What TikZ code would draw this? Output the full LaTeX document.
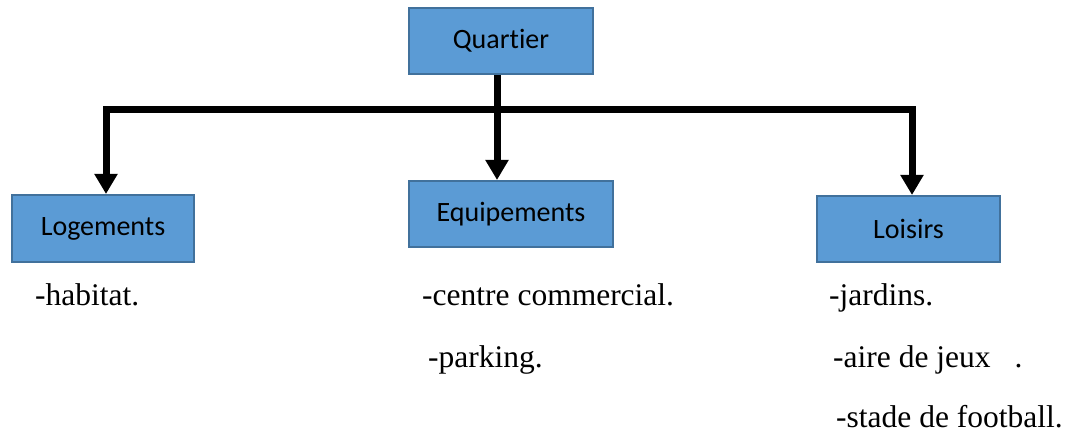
\documentclass[tikz,border=0pt]{standalone}
\usepackage{fontspec}
\setmainfont{Liberation Serif}
\newfontfamily\boxfont[Ligatures=NoCommon]{Carlito}
\usetikzlibrary{arrows.meta}
\definecolor{boxfill}{HTML}{5B9BD5}
\definecolor{boxline}{HTML}{41719C}
\tikzset{
  catbox/.style={draw=boxline, fill=boxfill, line width=2pt, inner sep=0pt,
    font=\boxfont\fontsize{28}{32}\selectfont},
  conn/.style={line width=7pt, line join=miter, draw=black},
  arr/.style={conn, -{Triangle[width=22pt,length=20pt]}},
  item/.style={anchor=base west, inner sep=0pt, font=\fontsize{31.5}{36}\selectfont}
}
\begin{document}
\begin{tikzpicture}[x=1pt,y=-1pt]
\useasboundingbox (0,0) rectangle (1068,435);
\node[catbox, minimum width=184pt, minimum height=66pt] (q) at (501,41) {Quartier};
\node[catbox, minimum width=182pt, minimum height=67pt] (log) at (103,228.5) {Logements};
\node[catbox, minimum width=204pt, minimum height=66pt] (eq) at (511,214) {\raisebox{3pt}{Equipements}};
\node[catbox, minimum width=183pt, minimum height=66pt] (lo) at (908.5,229) {Loisirs};
\coordinate (jm) at (497,110);
\coordinate (jl) at (106,110);
\coordinate (jr) at (912,110);
\draw[conn] (q.south -| jm) -- (jm);
\draw[arr] (jm) -- (jl) -- (jl |- log.north);
\draw[arr] (jm) -- (jr) -- (jr |- lo.north);
\draw[arr] (jm) -- (jm |- eq.north);
\node[item] (h1) at (35,306) {-habitat.};
\node[item] (e1) at (422,306) {-centre commercial.};
\node[item] (e2) at (428,367) {-parking.};
\node[item] (l1) at (829,306) {-jardins.};
\node[item] (l2) at (833,367) {-aire de jeux\hspace{24pt}.};
\node[item] (l3) at (836,428) {-stade de football.};
\end{tikzpicture}
\end{document}
